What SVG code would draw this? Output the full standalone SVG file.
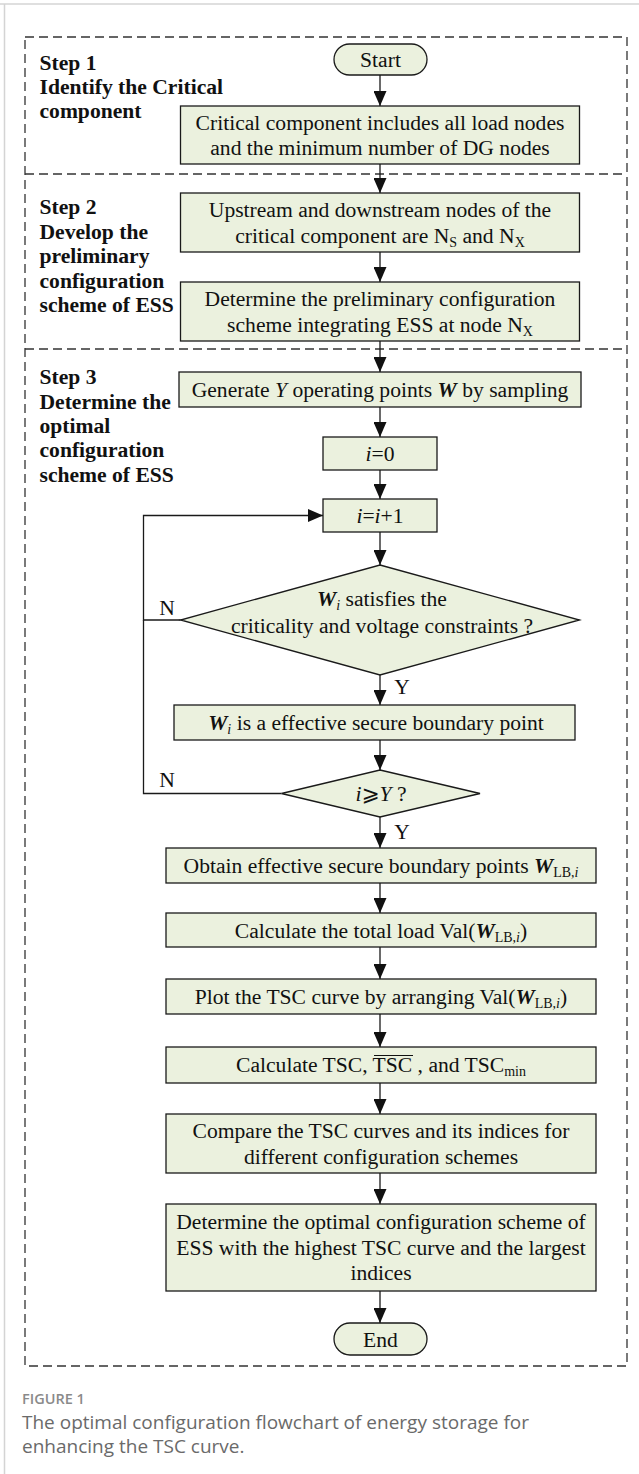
<svg xmlns="http://www.w3.org/2000/svg" width="639" height="1474" viewBox="0 0 639 1474">
<defs>
<style>
.box{fill:#ebf1de;stroke:#1a1a1a;stroke-width:1.3}
.t{font-family:"Liberation Serif","Times New Roman",serif;font-size:21.6px;fill:#111;text-anchor:middle}
.step{font-family:"Liberation Serif","Times New Roman",serif;font-weight:bold;font-size:21.6px;fill:#111}
.conn{stroke:#1a1a1a;stroke-width:1.3;fill:none}
.dash{stroke:#333;stroke-width:1.3;fill:none;stroke-dasharray:9 5}
.sub{font-size:14px}
.bi{font-weight:bold;font-style:italic}
.it{font-style:italic}
.frame{stroke:#d4d4d4;stroke-width:1.5;fill:none}
.capH{font-family:"Open Sans","Noto Sans",sans-serif;font-size:14.5px;font-weight:600;fill:#8a8a8a}
.cap{font-family:"Open Sans","Noto Sans",sans-serif;font-size:19px;fill:#6a6a6a}
</style>
<marker id="ah" markerUnits="userSpaceOnUse" viewBox="0 0 15 13" markerWidth="15" markerHeight="13" refX="15" refY="6.5" orient="auto">
<path d="M0,0 L15,6.5 L0,13 Z" fill="#111"/>
</marker>
</defs>
<rect width="639" height="1474" fill="#fff"/>
<g id="frame">
<line class="frame" x1="0" y1="4" x2="639" y2="4"/>
<line class="frame" x1="4.5" y1="4" x2="4.5" y2="1474"/>
</g>
<g id="steps">
<rect class="dash" x="25" y="37" width="602" height="1329"/>
<line class="dash" x1="25" y1="174" x2="627" y2="174"/>
<line class="dash" x1="25" y1="349" x2="627" y2="349"/>
<text class="step" x="39.5" y="70">Step 1</text>
<text class="step" x="39.5" y="94">Identify the Critical</text>
<text class="step" x="39.5" y="118">component</text>
<text class="step" x="39.5" y="214">Step 2</text>
<text class="step" x="39.5" y="239">Develop the</text>
<text class="step" x="39.5" y="263">preliminary</text>
<text class="step" x="39.5" y="288">configuration</text>
<text class="step" x="39.5" y="312">scheme of ESS</text>
<text class="step" x="39.5" y="384">Step 3</text>
<text class="step" x="39.5" y="408.5">Determine the</text>
<text class="step" x="39.5" y="433">optimal</text>
<text class="step" x="39.5" y="457">configuration</text>
<text class="step" x="39.5" y="482">scheme of ESS</text>
</g>
<g id="connectors">
<line class="conn" x1="380" y1="75" x2="380" y2="106" marker-end="url(#ah)"/>
<line class="conn" x1="380" y1="164" x2="380" y2="193" marker-end="url(#ah)"/>
<line class="conn" x1="380" y1="252" x2="380" y2="282" marker-end="url(#ah)"/>
<line class="conn" x1="380" y1="341" x2="380" y2="372" marker-end="url(#ah)"/>
<line class="conn" x1="380" y1="407" x2="380" y2="437" marker-end="url(#ah)"/>
<line class="conn" x1="380" y1="470" x2="380" y2="499" marker-end="url(#ah)"/>
<line class="conn" x1="380" y1="532" x2="380" y2="565" marker-end="url(#ah)"/>
<line class="conn" x1="380" y1="675" x2="380" y2="705" marker-end="url(#ah)"/>
<line class="conn" x1="380" y1="740" x2="380" y2="770" marker-end="url(#ah)"/>
<line class="conn" x1="380" y1="817" x2="380" y2="848" marker-end="url(#ah)"/>
<line class="conn" x1="380" y1="883" x2="380" y2="913" marker-end="url(#ah)"/>
<line class="conn" x1="380" y1="947" x2="380" y2="979" marker-end="url(#ah)"/>
<line class="conn" x1="380" y1="1014" x2="380" y2="1047" marker-end="url(#ah)"/>
<line class="conn" x1="380" y1="1083" x2="380" y2="1114" marker-end="url(#ah)"/>
<line class="conn" x1="380" y1="1173" x2="380" y2="1204" marker-end="url(#ah)"/>
<line class="conn" x1="380" y1="1291" x2="380" y2="1323" marker-end="url(#ah)"/>
<path class="conn" d="M180.5,620 H143.5 V515.5 H323" marker-end="url(#ah)"/>
<path class="conn" d="M281.5,793.5 H143.5 V620"/>
<text class="t" x="167" y="615">N</text>
<text class="t" x="402" y="694">Y</text>
<text class="t" x="167" y="787">N</text>
<text class="t" x="402" y="839">Y</text>
</g>
<g id="start">
<rect class="box" x="334" y="44" width="93" height="31" rx="15.5"/>
<text class="t" x="380.5" y="67">Start</text>
</g>
<g id="critical">
<rect class="box" x="180.5" y="106" width="399" height="58"/>
<text class="t" x="380" y="129.5">Critical component includes all load nodes</text>
<text class="t" x="380" y="155">and the minimum number of DG nodes</text>
</g>
<g id="upstream">
<rect class="box" x="180.5" y="193" width="399" height="59"/>
<text class="t" x="380" y="217">Upstream and downstream nodes of the</text>
<text class="t" x="380" y="242.5">critical component are N<tspan class="sub" dy="4">S</tspan><tspan dy="-4"> and N</tspan><tspan class="sub" dy="4">X</tspan></text>
</g>
<g id="preliminary">
<rect class="box" x="180.5" y="282" width="399" height="59"/>
<text class="t" x="380" y="306">Determine the preliminary configuration</text>
<text class="t" x="380" y="331.5">scheme integrating ESS at node N<tspan class="sub" dy="4">X</tspan></text>
</g>
<g id="generate">
<rect class="box" x="179" y="372" width="402" height="35"/>
<text class="t" x="380" y="397">Generate <tspan class="it">Y</tspan> operating points <tspan class="bi">W</tspan> by sampling</text>
</g>
<g id="i0">
<rect class="box" x="323" y="437" width="114" height="33"/>
<text class="t" x="380" y="461"><tspan class="it">i</tspan>=0</text>
</g>
<g id="iinc">
<rect class="box" x="323" y="499" width="114" height="33"/>
<text class="t" x="380" y="523"><tspan class="it">i</tspan>=<tspan class="it">i</tspan>+1</text>
</g>
<g id="check">
<polygon class="box" points="380,565 579.5,620 380,675 180.5,620"/>
<text class="t" x="382" y="606"><tspan class="bi">W</tspan><tspan class="sub it" dy="4">i</tspan><tspan dy="-4"> satisfies the</tspan></text>
<text class="t" x="382" y="633">criticality and voltage constraints ?</text>
</g>
<g id="boundary">
<rect class="box" x="174" y="705" width="401" height="35"/>
<text class="t" x="376" y="730"><tspan class="bi">W</tspan><tspan class="sub it" dy="4">i</tspan><tspan dy="-4"> is a effective secure boundary point</tspan></text>
</g>
<g id="loopcheck">
<polygon class="box" points="380,770 480,793.5 380,817 281.5,793.5"/>
<text class="t" x="381" y="801" style="font-family:'Liberation Serif','DejaVu Serif','DejaVu Sans',serif"><tspan class="it">i</tspan>⩾<tspan class="it">Y</tspan> ?</text>
</g>
<g id="obtain">
<rect class="box" x="166" y="848" width="430" height="35"/>
<text class="t" x="381" y="873">Obtain effective secure boundary points <tspan class="bi">W</tspan><tspan class="sub" dy="4">LB,<tspan class="it">i</tspan></tspan></text>
</g>
<g id="total">
<rect class="box" x="166" y="913" width="430" height="34"/>
<text class="t" x="381" y="937.5">Calculate the total load Val(<tspan class="bi">W</tspan><tspan class="sub" dy="4">LB,<tspan class="it">i</tspan></tspan><tspan dy="-4">)</tspan></text>
</g>
<g id="plot">
<rect class="box" x="166" y="979" width="430" height="35"/>
<text class="t" x="381" y="1004">Plot the TSC curve by arranging Val(<tspan class="bi">W</tspan><tspan class="sub" dy="4">LB,<tspan class="it">i</tspan></tspan><tspan dy="-4">)</tspan></text>
</g>
<g id="tsc">
<rect class="box" x="166" y="1047" width="430" height="36"/>
<text class="t" x="381" y="1072">Calculate TSC, TSC , and TSC<tspan class="sub" dy="4">min</tspan></text>
<line x1="374" y1="1055.5" x2="413" y2="1055.5" stroke="#111" stroke-width="1.2"/>
</g>
<g id="compare">
<rect class="box" x="166" y="1114" width="430" height="59"/>
<text class="t" x="381" y="1138">Compare the TSC curves and its indices for</text>
<text class="t" x="381" y="1163.5">different configuration schemes</text>
</g>
<g id="optimal">
<rect class="box" x="166" y="1204" width="430" height="87"/>
<text class="t" x="381" y="1229">Determine the optimal configuration scheme of</text>
<text class="t" x="381" y="1255">ESS with the highest TSC curve and the largest</text>
<text class="t" x="381" y="1280">indices</text>
</g>
<g id="end">
<rect class="box" x="334" y="1323" width="93" height="32" rx="16"/>
<text class="t" x="380.5" y="1346.5">End</text>
</g>
<g id="caption">
<text class="capH" x="22" y="1404">FIGURE 1</text>
<text class="cap" x="22" y="1429">The optimal configuration flowchart of energy storage for</text>
<text class="cap" x="22" y="1453">enhancing the TSC curve.</text>
</g>
</svg>
